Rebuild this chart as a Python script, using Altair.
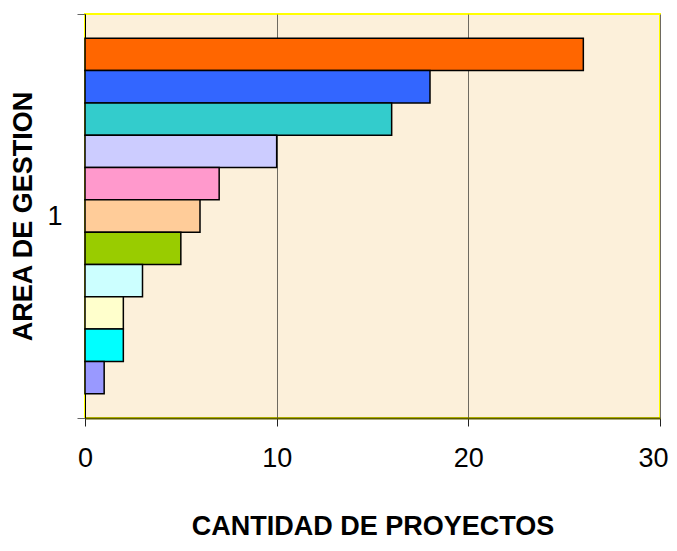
import altair as alt
import pandas as pd

areas = ["A1", "A2", "A3", "A4", "A5", "A6", "A7", "A8", "A9", "A10", "A11"]
values = [26, 18, 16, 10, 7, 6, 5, 3, 2, 2, 1]
colors = ["#FF6600", "#3366FF", "#33CCCC", "#CCCCFF", "#FF99CC", "#FFCC99",
          "#99CC00", "#CCFFFF", "#FFFFCC", "#00FFFF", "#9999FF"]
group = ["1"] * len(areas)
x_ticks = [0, 10, 20, 30]

df = pd.DataFrame({"grupo": group, "area": areas, "valor": values})

FONT = "Liberation Sans"

chart = alt.Chart(df).mark_bar(stroke="black", strokeWidth=1.5).encode(
    y=alt.Y("grupo:N",
            scale=alt.Scale(paddingInner=0, paddingOuter=0),
            axis=alt.Axis(title="AREA DE GESTION", tickBand="extent",
                          labelAngle=0, labelFontSize=27, labelFont=FONT,
                          labelColor="black", labelPadding=15, tickSize=8,
                          tickColor="#666666", domainColor="black",
                          titleFont=FONT, titleFontSize=27, titleFontWeight="bold",
                          titleColor="black", titleAngle=-90, titleBaseline="middle",
                          titleAlign="center", titleX=-62, titleY=202)),
    yOffset=alt.YOffset("area:N", sort=areas,
                        scale=alt.Scale(paddingInner=0, paddingOuter=0.75)),
    x=alt.X("valor:Q",
            scale=alt.Scale(domain=[0, 30]),
            axis=alt.Axis(title="CANTIDAD DE PROYECTOS", values=x_ticks,
                          labelFontSize=27, labelFont=FONT, labelColor="black",
                          labelPadding=19, tickSize=8, tickColor="#222222",
                          labelAlign=alt.condition("datum.value == 30",
                                                   alt.value("right"),
                                                   alt.value("center")),
                          labelOffset=alt.condition("datum.value == 30",
                                                    alt.value(8),
                                                    alt.value(0)),
                          domainColor="#5a5a00", domainWidth=2,
                          grid=True, gridColor="#6e6a60", gridWidth=1,
                          titleFont=FONT, titleFontSize=27, titleFontWeight="bold",
                          titleColor="black", titleBaseline="alphabetic",
                          titleY=116)),
    color=alt.Color("area:N", sort=areas,
                    scale=alt.Scale(domain=areas, range=colors), legend=None),
).properties(
    width=575, height=404,
    autosize=alt.AutoSizeParams(type="none"),
    padding={"left": 77, "top": 6, "right": 9, "bottom": 122},
    background="white",
).configure_view(
    fill="#FCF0DA", stroke="#FFFF00", strokeWidth=2,
)

chart.save("out.html", embed_options={"renderer": "svg", "actions": False})
